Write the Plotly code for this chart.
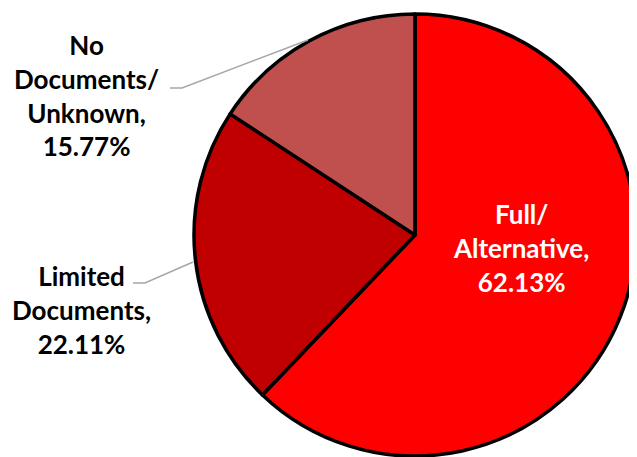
import plotly.graph_objects as go

categories = ["Full/ Alternative", "Limited Documents", "No Documents/ Unknown"]
values = [62.13, 22.11, 15.77]
label_lines = [["Full/", "Alternative,"], ["Limited", "Documents,"], ["No", "Documents/", "Unknown,"]]
colors = ["#FF0000", "#C00000", "#C0504D"]

OFF = 8  # page body margin in the screenshot
W, H = 637 - OFF, 457 - OFF
cx, cy, r = 415 - OFF, 235 - OFF, 221

fig = go.Figure(go.Pie(
    labels=categories, values=values, sort=False, direction="clockwise", rotation=0,
    marker=dict(colors=colors, line=dict(color="black", width=3.5)),
    textinfo="none", hoverinfo="label+percent", showlegend=False,
    domain=dict(x=[(cx - r) / W, (cx + r) / W], y=[(H - cy - r) / H, (H - cy + r) / H]),
))

def px(x):
    return (x - OFF) / W

def py(y):
    return 1 - (y - OFF) / H

label_pos = [(521, 248, "white"), (81, 310, "black"), (87, 95, "black")]
for lines, v, (x, y, c) in zip(label_lines, values, label_pos):
    txt = "<br>".join(f"<b>{s}</b>" for s in lines + [f"{v:.2f}%"])
    fig.add_annotation(x=px(x), y=py(y), xref="paper", yref="paper", text=txt, showarrow=False,
                       xanchor="center", yanchor="middle", align="center",
                       font=dict(family="Lato", size=26, color=c))

lc = "#A6A6A6"
for pts in [[(170, 88), (182, 88), (308, 40)], [(133, 283), (145, 283), (193, 262)]]:
    path = "M " + " L ".join(f"{px(x)},{py(y)}" for x, y in pts)
    fig.add_shape(type="path", path=path, xref="paper", yref="paper", line=dict(color=lc, width=1.5))

fig.update_layout(width=W, height=H, margin=dict(l=0, r=0, t=0, b=0),
                  paper_bgcolor="white", plot_bgcolor="white")
fig.write_html("out.html")
